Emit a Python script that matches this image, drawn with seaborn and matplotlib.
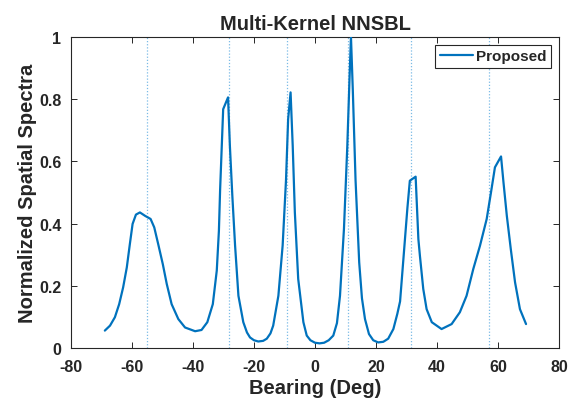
import seaborn as sns
import matplotlib.pyplot as plt

sns.set_style('ticks')
plt.rcParams['font.family'] = ['Liberation Sans', 'DejaVu Sans']
plt.rcParams['font.weight'] = 'bold'
plt.rcParams['axes.unicode_minus'] = False

# bearing (deg) and normalized spectrum
bearing = [-68.9, -67.2, -65.6, -64.2, -62.9, -61.7, -60.7, -59.8, -58.7, -57.4,
           -55.7, -53.9, -52.7, -51.4, -49.9, -48.6, -47.0, -44.8, -42.6, -39.3,
           -37.2, -35.3, -33.5, -32.2, -31.5, -31.1, -30.1, -28.5, -27.9, -27.1,
           -26.2, -25.1, -23.5, -22.3, -21.3, -20.0, -18.6, -17.0, -15.8, -14.6,
           -13.7, -12.0, -10.6, -9.5, -8.8, -8.0, -7.3, -6.6, -5.5, -3.8,
           -2.7, -1.5, 0.0, 1.5, 3.0, 4.5, 6.0, 7.2, 8.2, 9.5,
           10.6, 11.3, 11.8, 12.4, 13.3, 14.5, 15.4, 16.4, 17.7, 19.1,
           20.7, 22.4, 24.0, 25.7, 27.0, 27.9, 28.7, 29.5, 30.3, 31.1,
           33.0, 33.9, 34.4, 35.5, 36.6, 38.3, 41.5, 44.8, 47.5, 49.7,
           51.9, 54.1, 56.3, 57.7, 59.0, 61.0, 61.8, 62.9, 64.2, 65.6,
           67.2, 69.2]
spectrum = [0.056, 0.072, 0.099, 0.141, 0.195, 0.259, 0.334, 0.399, 0.429, 0.436,
            0.425, 0.415, 0.388, 0.334, 0.270, 0.206, 0.141, 0.093, 0.066, 0.054,
            0.058, 0.083, 0.141, 0.249, 0.377, 0.510, 0.768, 0.806, 0.650, 0.490,
            0.330, 0.168, 0.083, 0.050, 0.034, 0.025, 0.021, 0.023, 0.030, 0.047,
            0.072, 0.168, 0.330, 0.540, 0.736, 0.822, 0.650, 0.436, 0.222, 0.083,
            0.040, 0.025, 0.017, 0.015, 0.017, 0.025, 0.040, 0.080, 0.168, 0.383,
            0.650, 0.860, 1.000, 0.830, 0.540, 0.275, 0.160, 0.093, 0.045, 0.025,
            0.018, 0.020, 0.030, 0.061, 0.110, 0.150, 0.250, 0.350, 0.450, 0.538,
            0.551, 0.350, 0.297, 0.190, 0.125, 0.083, 0.061, 0.077, 0.115, 0.168,
            0.254, 0.329, 0.415, 0.500, 0.581, 0.616, 0.533, 0.425, 0.318, 0.211,
            0.125, 0.077]

# true source bearings (dotted markers)
true_doa = [-55, -28.2, -9.2, 10.8, 31.5, 57]

fig = plt.figure(figsize=(5.78, 4.02), dpi=100)
ax = fig.add_axes([0.1228, 0.1318, 0.8443, 0.7736])

for d in true_doa:
    ax.axvline(d, color='#7bbbe6', lw=0.9, ls=(0, (1, 1.5)), zorder=1)

sns.lineplot(x=bearing, y=spectrum, ax=ax, color='#0072BD', lw=1.6,
             label='Proposed', zorder=3)

ax.set_xlim(-80, 80)
ax.set_ylim(0, 1)
ax.set_xticks(range(-80, 81, 20))
ax.set_yticks([0, 0.2, 0.4, 0.6, 0.8, 1])
ax.set_yticklabels(['0', '0.2', '0.4', '0.6', '0.8', '1'])
ax.tick_params(direction='in', top=True, right=True, length=4, width=0.7,
               labelsize=11.5, colors='#262626')
ax.tick_params(axis='x', pad=8)
ax.tick_params(axis='y', pad=7)
for lab in ax.get_xticklabels() + ax.get_yticklabels():
    lab.set_fontweight('bold')
for s in ax.spines.values():
    s.set_color('#262626')
    s.set_linewidth(0.8)

ax.set_xlabel('Bearing (Deg)', fontsize=14.5, fontweight='bold', labelpad=3)
ax.set_ylabel('Normalized Spatial Spectra', fontsize=14.5, fontweight='bold', labelpad=1)
ax.set_title('Multi-Kernel NNSBL', fontsize=14.5, fontweight='bold', pad=6)

leg = ax.legend(loc='upper right', fancybox=False, framealpha=1, edgecolor='#262626',
                prop={'size': 11, 'weight': 'bold'}, borderaxespad=0.5,
                handlelength=2.2, handletextpad=0.2, borderpad=0.3)
leg.get_frame().set_linewidth(0.8)

fig.savefig('out.png', dpi=100)
